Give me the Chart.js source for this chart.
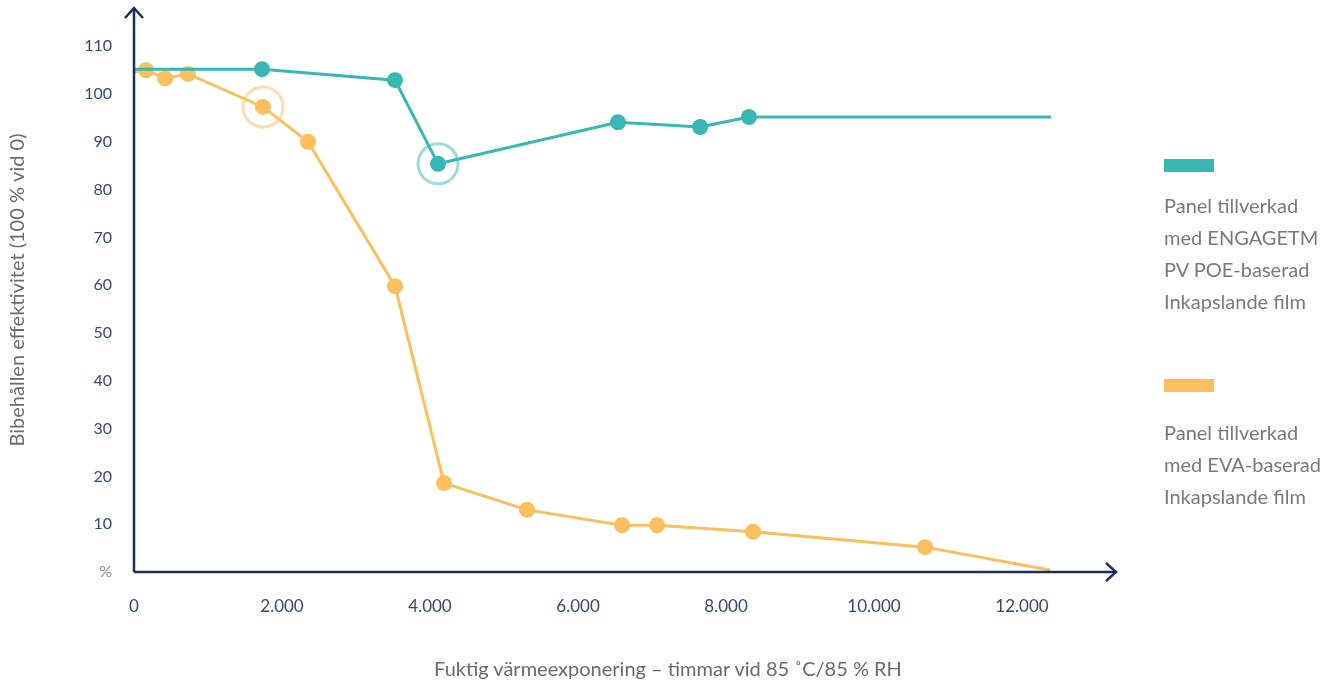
<!DOCTYPE html>
<html lang="sv">
<head>
    <meta charset="UTF-8">
    <title>Bibehållen effektivitet</title>
    <script src="https://cdn.jsdelivr.net/npm/chart.js@4.4.1/dist/chart.umd.min.js"></script>
    <style>
        body { margin: 0; background: #fff; font-family: Lato, sans-serif; }
        .wrap { position: relative; width: 1341px; height: 683px; }
        .legend { position: absolute; left: 1164px; color: #7a7a7a; font-size: 20px; line-height: 32px; }
        .swatch { width: 50px; height: 13px; }
        .xtitle { position: absolute; left: 368px; width: 600px; top: 655px; text-align: center;
                  color: #6b6b6b; font-size: 20px; line-height: 26px; }
    </style>
</head>
<body>
<div class="wrap">
    <canvas id="chart" width="1341" height="683"></canvas>
    <div class="xtitle">Fuktig värmeexponering – timmar vid 85 ˚C/85 % RH</div>
    <div class="legend" style="top:159px">
        <div class="swatch" style="background:#37b8b2; margin-bottom:17px"></div>
        Panel tillverkad<br>med ENGAGETM<br>PV POE-baserad<br>Inkapslande film
    </div>
    <div class="legend" style="top:379px">
        <div class="swatch" style="background:#fdbe5d; margin-bottom:24px"></div>
        Panel tillverkad<br>med EVA-baserad<br>Inkapslande film
    </div>
</div>
<script>
    const xTicks = [0, 2000, 4000, 6000, 8000, 10000, 12000];
    const yTicks = [0, 10, 20, 30, 40, 50, 60, 70, 80, 90, 100, 110];

    const engageHours = [0, 1730, 3527, 4108, 6540, 7650, 8310, 12390];
    const engageValues = [105.2, 105.2, 102.9, 85.4, 94.1, 93.1, 95.2, 95.2];
    const engageHalo = [3];

    const evaHours = [0, 162, 419, 730, 1743, 2351, 3527, 4189, 5311, 6595, 7068, 8365, 10689, 12378];
    const evaValues = [104.6, 105.0, 103.3, 104.2, 97.3, 90.0, 59.8, 18.6, 13.0, 9.8, 9.8, 8.4, 5.2, 0.4];
    const evaHalo = [4];

    const teal = '#37b8b2', orange = '#fdbe5d', navy = '#1e2b5e';

    function pts(xs, ys) { return xs.map((x, i) => ({ x: x, y: ys[i] })); }
    function radii(xs) { return xs.map((x, i) => (i === 0 || i === xs.length - 1) ? 0 : 8); }

    const axisArrows = {
        id: 'axisArrows',
        afterDraw(chart) {
            const { ctx, chartArea: a } = chart;
            ctx.save();
            ctx.strokeStyle = navy;
            ctx.lineWidth = 2.5;
            ctx.beginPath();
            ctx.moveTo(a.left, a.bottom);
            ctx.lineTo(a.left, a.top);
            ctx.moveTo(a.left, a.bottom);
            ctx.lineTo(a.right, a.bottom);
            ctx.stroke();
            ctx.beginPath();
            ctx.moveTo(a.left - 9, a.top + 10);
            ctx.lineTo(a.left, a.top);
            ctx.lineTo(a.left + 9, a.top + 10);
            ctx.moveTo(a.right - 10, a.bottom - 9);
            ctx.lineTo(a.right, a.bottom);
            ctx.lineTo(a.right - 10, a.bottom + 9);
            ctx.stroke();
            ctx.restore();
        }
    };

    new Chart(document.getElementById('chart'), {
        type: 'line',
        data: {
            datasets: [
                {
                    data: pts(engageHours, engageValues),
                    borderColor: teal, backgroundColor: teal, borderWidth: 3,
                    pointRadius: radii(engageHours), pointBorderWidth: 0, tension: 0, clip: false
                },
                {
                    data: pts(evaHours, evaValues),
                    borderColor: orange, backgroundColor: orange, borderWidth: 3,
                    pointRadius: radii(evaHours), pointBorderWidth: 0, tension: 0, clip: false
                },
                {
                    data: engageHalo.map(i => ({ x: engageHours[i], y: engageValues[i] })),
                    showLine: false, pointRadius: 20, pointBorderWidth: 3,
                    pointBorderColor: 'rgba(55,184,178,0.5)', pointBackgroundColor: 'rgba(0,0,0,0)', clip: false
                },
                {
                    data: evaHalo.map(i => ({ x: evaHours[i], y: evaValues[i] })),
                    showLine: false, pointRadius: 20, pointBorderWidth: 3,
                    pointBorderColor: 'rgba(253,190,93,0.5)', pointBackgroundColor: 'rgba(0,0,0,0)', clip: false
                }
            ]
        },
        options: {
            responsive: false,
            animation: false,
            layout: { autoPadding: false, padding: { left: 0, right: 225, top: 8, bottom: 0 } },
            plugins: { legend: { display: false }, tooltip: { enabled: false } },
            scales: {
                x: {
                    type: 'linear', min: 0, max: 13270,
                    grid: { display: false, drawTicks: false }, border: { display: false },
                    afterBuildTicks: s => { s.ticks = xTicks.map(v => ({ value: v })); },
                    afterFit: s => { s.height = 111; s.paddingLeft = 0; s.paddingRight = 0; },
                    ticks: {
                        padding: 24, color: '#3a4677', font: { family: 'Lato', size: 17 },
                        maxRotation: 0, autoSkip: false,
                        callback: v => v.toLocaleString('de-DE')
                    }
                },
                y: {
                    min: 0, max: 118,
                    grid: { display: false, drawTicks: false }, border: { display: false },
                    afterBuildTicks: s => { s.ticks = yTicks.map(v => ({ value: v })); },
                    afterFit: s => { s.width = 134; s.paddingTop = 0; s.paddingBottom = 0; },
                    ticks: {
                        padding: 22, font: { family: 'Lato', size: 16 },
                        color: c => c.tick.value === 0 ? '#8a8a8a' : '#3a4677',
                        callback: v => v === 0 ? '%' : v
                    },
                    title: {
                        display: true, text: 'Bibehållen effektivitet (100 % vid 0)',
                        color: '#6b6b6b', font: { family: 'Lato', size: 20 }, padding: { top: 6, bottom: 0 }
                    }
                }
            }
        },
        plugins: [axisArrows]
    });
</script>
</body>
</html>
